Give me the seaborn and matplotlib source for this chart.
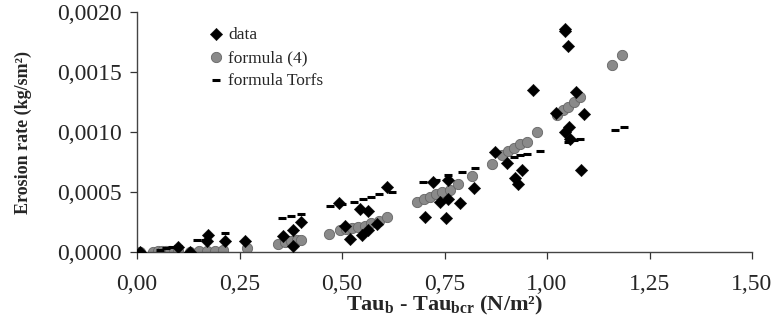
import pandas as pd
import matplotlib.pyplot as plt
import matplotlib as mpl
from matplotlib.ticker import FuncFormatter
import seaborn as sns

# measured erosion rates
data_x = [0.007, 0.10, 0.13, 0.17, 0.173, 0.215, 0.263, 0.357, 0.381, 0.38, 0.40,
          0.493, 0.507, 0.52, 0.544, 0.564, 0.548, 0.564, 0.585, 0.61,
          0.722, 0.759, 0.739, 0.759, 0.788, 0.702, 0.754, 0.822,
          0.873, 0.902, 0.939, 0.922, 0.929, 0.966, 1.044, 1.045, 1.051,
          1.071, 1.022, 1.09, 1.054, 1.044, 1.056, 1.083]
data_y = [0.0, 0.00004, 0.0, 0.00009, 0.00014, 0.00009, 0.00009, 0.00013, 0.00018, 0.00005, 0.00025,
          0.00041, 0.00022, 0.00011, 0.00036, 0.00034, 0.00014, 0.00018, 0.00023, 0.00054,
          0.00058, 0.00060, 0.00042, 0.00044, 0.00041, 0.00029, 0.00028, 0.00053,
          0.00083, 0.00074, 0.00068, 0.00062, 0.00057, 0.00135, 0.00184, 0.00186, 0.00172,
          0.00133, 0.00116, 0.00115, 0.00104, 0.00100, 0.00094, 0.00068]

# formula (4)
f4_x = [0.007, 0.04, 0.05, 0.06, 0.07, 0.08, 0.09, 0.10, 0.13, 0.15, 0.17, 0.19, 0.21,
        0.268, 0.345, 0.36, 0.375, 0.39, 0.40, 0.468,
        0.495, 0.51, 0.525, 0.54, 0.555, 0.57, 0.59, 0.61,
        0.683, 0.70, 0.715, 0.73, 0.745, 0.763, 0.783, 0.817, 0.866,
        0.89, 0.905, 0.92, 0.935, 0.951, 0.976,
        1.024, 1.038, 1.052, 1.066, 1.08, 1.159, 1.183]
f4_y = [0.0, 0.0, 0.000005, 0.000005, 0.00001, 0.00001, 0.00001, 0.00001, 0.0, 0.000005, 0.00001, 0.00001, 0.00002,
        0.00003, 0.00007, 0.00008, 0.00009, 0.0001, 0.0001, 0.00015,
        0.00018, 0.00019, 0.0002, 0.00021, 0.00022, 0.00024, 0.00026, 0.00029,
        0.00042, 0.00044, 0.00046, 0.00048, 0.0005, 0.00052, 0.00057, 0.00063, 0.00073,
        0.00081, 0.00084, 0.00087, 0.0009, 0.00092, 0.0010,
        0.00114, 0.00118, 0.00121, 0.00125, 0.00129, 0.00156, 0.00164]

# formula Torfs
torfs_x = [0.055, 0.07, 0.085, 0.10, 0.146, 0.166, 0.215, 0.354, 0.375, 0.40,
           0.47, 0.50, 0.53, 0.55, 0.57, 0.59, 0.622,
           0.698, 0.73, 0.759, 0.793, 0.824, 0.92, 0.935, 0.95, 0.983,
           1.05, 1.065, 1.08, 1.166, 1.188]
torfs_y = [0.00002, 0.00003, 0.00004, 0.00005, 0.0001, 0.0001, 0.00016, 0.00028, 0.0003, 0.00032,
           0.00038, 0.0004, 0.00042, 0.00044, 0.00046, 0.00048, 0.0005,
           0.00058, 0.0006, 0.00064, 0.00067, 0.0007, 0.00079, 0.00081, 0.00082, 0.00084,
           0.00092, 0.00093, 0.00094, 0.00102, 0.00104]

x_ticks = [0.0, 0.25, 0.5, 0.75, 1.0, 1.25, 1.5]
y_ticks = [0.0, 0.0005, 0.0010, 0.0015, 0.0020]


def comma(fmt):
    return FuncFormatter(lambda v, pos: (fmt % v).replace('.', ','))


def main():
    sns.set_style('ticks')
    mpl.rcParams['font.family'] = ['Liberation Serif', 'DejaVu Serif']
    mpl.rcParams['mathtext.fontset'] = 'custom'
    mpl.rcParams['mathtext.rm'] = 'Liberation Serif'
    mpl.rcParams['mathtext.bf'] = 'Liberation Serif:bold'

    fig = plt.figure(figsize=(7.78, 3.29), dpi=100)
    ax = fig.add_axes([137 / 778, 77 / 329, 615 / 778, 240 / 329])

    sns.scatterplot(x=f4_x, y=f4_y, marker='o', s=55, color='#8a8a8a',
                    edgecolor='#666666', linewidth=0.6, label='formula (4)', ax=ax, zorder=2)
    sns.scatterplot(x=torfs_x, y=torfs_y, marker='_', s=30, color='black',
                    linewidth=2.2, label='formula Torfs', ax=ax, zorder=3)
    sns.scatterplot(x=data_x, y=data_y, marker='D', s=40, color='black',
                    edgecolor='black', linewidth=0.3, label='data', ax=ax, zorder=4)

    ax.set_xlim(0, 1.5)
    ax.set_ylim(0, 0.0020)
    ax.set_xticks(x_ticks)
    ax.set_yticks(y_ticks)
    ax.xaxis.set_major_formatter(comma('%.2f'))
    ax.yaxis.set_major_formatter(comma('%.4f'))
    ax.tick_params(labelsize=17, length=5, width=0.9, color='#333333')
    ax.tick_params(axis='y', pad=6)
    ax.tick_params(axis='x', pad=11)
    for side in ['left', 'bottom']:
        ax.spines[side].set_color('#444444')
        ax.spines[side].set_linewidth(1.0)
    sns.despine(ax=ax)

    ax.set_xlabel(r'Tau$_\mathbf{b}$ - Tau$_\mathbf{bcr}$ (N/m²)', fontsize=16,
                  fontweight='bold')
    ax.xaxis.set_label_coords(0.5, -0.175)
    ax.set_ylabel('Erosion rate (kg/sm²)', fontsize=13, fontweight='bold')
    ax.yaxis.set_label_coords(-0.17, 0.5)

    handles, labels = ax.get_legend_handles_labels()
    order = [labels.index(l) for l in ['data', 'formula (4)', 'formula Torfs']]
    ax.legend([handles[i] for i in order], [labels[i] for i in order],
              loc='upper left', bbox_to_anchor=(0.1, 0.975), frameon=False,
              fontsize=12.5, handletextpad=0.2, labelspacing=0.4,
              handlelength=1.0, borderaxespad=0.1)

    plt.savefig('out.png', dpi=100)
    plt.close()


if __name__ == '__main__':
    main()
